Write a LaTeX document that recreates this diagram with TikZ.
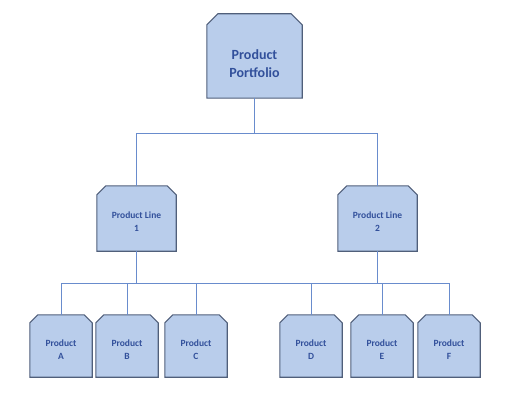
\documentclass[tikz,border=0pt]{standalone}
\usepackage{fontspec}
\setmainfont{Carlito}
\usetikzlibrary{backgrounds}
\definecolor{boxfill}{RGB}{185,205,235}
\definecolor{boxedge}{RGB}{80,95,122}
\definecolor{boxtext}{RGB}{50,80,155}
\definecolor{linkblue}{RGB}{105,140,205}
\tikzset{
  unit/.style={rectangle, text=boxtext, align=center, inner sep=0pt},
  portfolio/.style={unit, minimum width=95pt, minimum height=84pt,
    font=\fontsize{14}{18}\selectfont\bfseries},
  prodline/.style={unit, minimum width=79pt, minimum height=65pt,
    font=\fontsize{9.5}{13}\selectfont\bfseries},
  product/.style={unit, minimum width=62pt, minimum height=62pt,
    font=\fontsize{9.5}{13}\selectfont\bfseries},
  snip/.style={fill=boxfill, draw=boxedge, line width=1.1pt, line join=miter},
  link/.style={draw=linkblue, line width=0.9pt}
}
% outline with both top corners cut off
\newcommand\snipbox[2]{%
  \path[snip] (#1.south west) -- ([yshift=-#2]#1.north west) -- ([xshift=#2]#1.north west)
    -- ([xshift=-#2]#1.north east) -- ([yshift=-#2]#1.north east) -- (#1.south east) -- cycle;}
\begin{document}
\begin{tikzpicture}[x=1pt,y=-1pt]
\useasboundingbox (0,0) rectangle (521,406);
% top level
\node[portfolio] (top) at (254.5,56) {\strut\\[-6pt]Product\\Portfolio};
% product lines
\node[prodline] (line1) at (136.5,218.5) {\strut\\[-9pt]Product Line\\1};
\node[prodline] (line2) at (377.5,218.5) {\strut\\[-9pt]Product Line\\2};
% products
\node[product] (pA) at (61,346) {\strut\\[-9pt]Product\\A};
\node[product] (pB) at (127,346) {\strut\\[-9pt]Product\\B};
\node[product] (pC) at (196,346) {\strut\\[-9pt]Product\\C};
\node[product] (pD) at (311,346) {\strut\\[-9pt]Product\\D};
\node[product] (pE) at (382,346) {\strut\\[-9pt]Product\\E};
\node[product] (pF) at (449,346) {\strut\\[-9pt]Product\\F};
% box outlines
\begin{scope}[on background layer]
\snipbox{top}{11pt}
\snipbox{line1}{9pt}
\snipbox{line2}{9pt}
\foreach \p in {pA,pB,pC,pD,pE,pF}
  {\snipbox{\p}{8pt}}
\end{scope}
% bus lines
\coordinate (bus1) at (0,133);
\coordinate (bus2) at (0,283);
\draw[link] (top.south) -- (top.south|-bus1) -| (line1.north);
\draw[link] (top.south|-bus1) -| (line2.north);
\draw[link] (line1.south) -- (line1.south|-bus2);
\draw[link] (line2.south) -- (line2.south|-bus2);
\draw[link] (pA.north|-bus2) -- (pF.north|-bus2);
\foreach \p in {pA,pB,pC,pD,pE,pF}
  \draw[link] (\p.north|-bus2) -- (\p.north);
\end{tikzpicture}
\end{document}
